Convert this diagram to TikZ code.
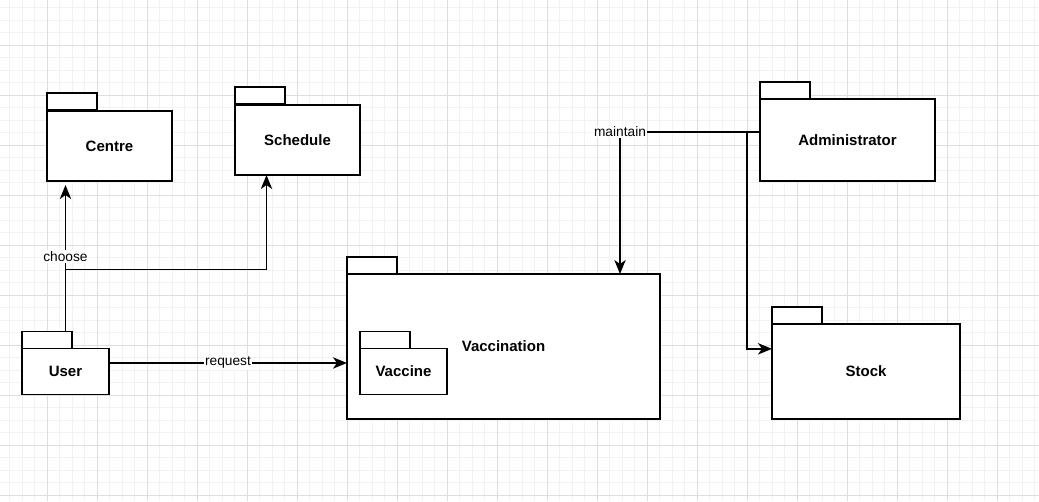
\documentclass[tikz,border=0pt]{standalone}
\usepackage{fontspec}
\setmainfont{Liberation Sans}
\usetikzlibrary{arrows.meta,positioning}
\newdimen\upx
\upx=0.75pt
\tikzset{
  pkg/.style={draw, line width=1.1pt, fill=white, inner sep=0pt, outer sep=0pt, align=center, font=\bfseries\fontsize{11.25}{13}\selectfont},
  pkgtab/.style={draw, line width=1.1pt, fill=white, inner sep=0pt, outer sep=0pt, minimum width=50\upx, minimum height=17\upx, anchor=south west},
  lbl/.style={fill=white, inner sep=1pt, font=\fontsize{10.3}{12}\selectfont},
  flow/.style={-{Stealth[length=10.5pt, width=8.5pt, inset=3pt]}, line width=1.1pt},
  minorgrid/.style={draw=black!5, line width=0.6pt},
  majorgrid/.style={draw=black!13, line width=0.6pt}
}

\begin{document}
\begin{tikzpicture}[x=0.75pt, y=-0.75pt]
\clip (0,0) rectangle (1039,501);
\useasboundingbox (0,0) rectangle (1039,501);
% background grid
\foreach \gx in {-3,9.5,...,1045} \draw[minorgrid] (\gx,0) -- (\gx,501);
\foreach \gy in {-5,7.5,...,505} \draw[minorgrid] (0,\gy) -- (1039,\gy);
\foreach \gx in {-3,47,...,1045} \draw[majorgrid] (\gx,0) -- (\gx,501);
\foreach \gy in {-5,45,...,505} \draw[majorgrid] (0,\gy) -- (1039,\gy);

% packages
\node[pkg, minimum width=125\upx, minimum height=70\upx] (centre) at (109.5,146) {Centre};
\node[pkgtab] (centretab) at ([yshift=0.75pt]centre.north west) {};
\node[pkg, minimum width=125\upx, minimum height=70\upx] (schedule) at (297.5,140) {Schedule};
\node[pkgtab] (scheduletab) at ([yshift=0.75pt]schedule.north west) {};
\node[pkg, minimum width=87\upx, minimum height=46\upx] (user) at (65.5,371.5) {User};
\node[pkgtab] (usertab) at (user.north west) {};
\node[pkg, minimum width=313\upx, minimum height=145\upx] (vaccination) at (503.5,346.5) {Vaccination};
\node[pkgtab] (vaccinationtab) at (vaccination.north west) {};
\node[pkg, minimum width=87\upx, minimum height=46\upx] (vaccine) at (403.5,371.5) {Vaccine};
\node[pkgtab] (vaccinetab) at (vaccine.north west) {};
\node[pkg, minimum width=175\upx, minimum height=82\upx] (admin) at (847.5,140) {Administrator};
\node[pkgtab] (admintab) at (admin.north west) {};
\node[pkg, minimum width=188\upx, minimum height=95\upx] (stock) at (866,371.5) {Stock};
\node[pkgtab] (stocktab) at (stock.north west) {};

% connectors
\coordinate (userout) at (user.north |- usertab.north);
\coordinate (reqstart) at ([yshift=6.4pt]user.east);
\coordinate (adminout) at ([yshift=6pt]admin.west);
\draw[flow, shorten >=3pt] (userout) -- node[lbl]{choose} (centre.south -| userout);
\draw[flow] (userout) -- ++(0,-62) -| ([xshift=-23.25pt]schedule.south);
\draw[flow] (reqstart) -- node[lbl]{request} (reqstart -| vaccination.west);
\draw[flow] (adminout) -| node[lbl, pos=0.5]{maintain} ([xshift=-30pt]vaccination.north east);
\draw[flow] (adminout) -- ++(-13,0) |- ([yshift=17pt]stock.west);
\end{tikzpicture}
\end{document}
